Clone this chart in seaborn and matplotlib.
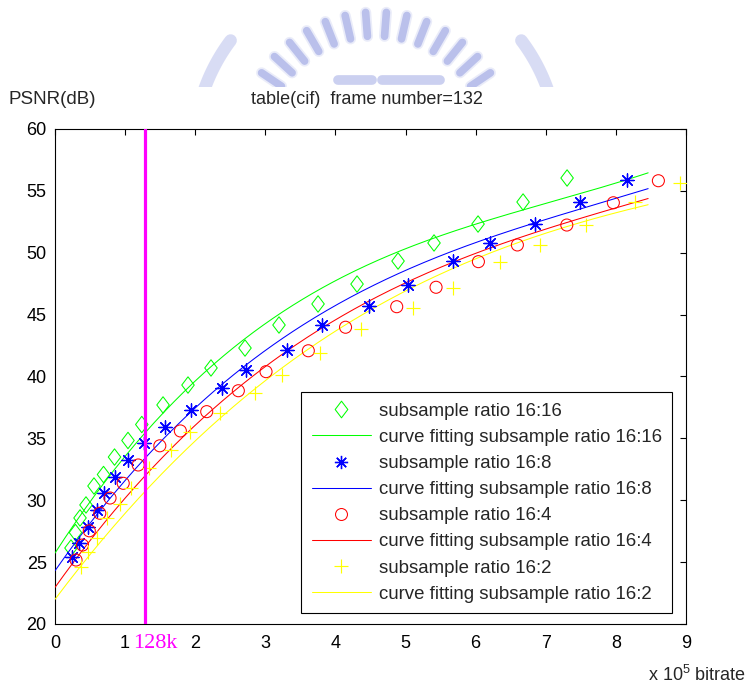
import numpy as np
import matplotlib
matplotlib.use("Agg")
import matplotlib.pyplot as plt
import seaborn as sns
from matplotlib.lines import Line2D
from matplotlib.path import Path

# ---- measured rate / PSNR points (bitrate in units of 1e5 bit/s) ----
r16_x = [0.228, 0.292, 0.357, 0.442, 0.556, 0.692, 0.849, 1.041, 1.238, 1.541, 1.897,
         2.225, 2.710, 3.195, 3.752, 4.308, 4.893, 5.406, 6.034, 6.676, 7.304]
r16_y = [26.14, 27.39, 28.57, 29.62, 31.15, 32.08, 33.49, 34.83, 36.12, 37.70, 39.31,
         40.69, 42.30, 44.16, 45.86, 47.47, 49.33, 50.79, 52.32, 54.10, 56.04]

r8_x = [0.247, 0.342, 0.475, 0.595, 0.703, 0.856, 1.046, 1.274, 1.576, 1.940, 2.382,
        2.725, 3.310, 3.809, 4.479, 5.036, 5.678, 6.205, 6.847, 7.489, 8.160]
r8_y = [25.44, 26.57, 27.86, 29.21, 30.56, 31.85, 33.25, 34.60, 35.92, 37.29, 39.07,
        40.53, 42.14, 44.16, 45.70, 47.39, 49.33, 50.79, 52.32, 54.10, 55.88]

r4_x = [0.300, 0.392, 0.489, 0.639, 0.785, 0.973, 1.187, 1.495, 1.788, 2.164, 2.615,
        3.010, 3.613, 4.144, 4.874, 5.435, 6.039, 6.595, 7.300, 7.964, 8.606]
r4_y = [25.17, 26.38, 27.53, 28.95, 30.18, 31.37, 32.85, 34.40, 35.60, 37.16, 38.85,
        40.39, 42.08, 43.98, 45.64, 47.21, 49.28, 50.63, 52.24, 54.04, 55.82]

r2_x = [0.367, 0.471, 0.603, 0.735, 0.924, 1.080, 1.341, 1.652, 1.926, 2.354, 2.853,
        3.234, 3.780, 4.358, 5.103, 5.678, 6.348, 6.923, 7.579, 8.274, 8.916]
r2_y = [24.63, 25.84, 26.93, 28.54, 29.72, 31.01, 32.58, 34.10, 35.54, 37.07, 38.69,
        40.16, 41.92, 43.85, 45.51, 47.13, 49.24, 50.63, 52.28, 54.08, 55.66]

# ---- values of the fitted rate-distortion curves ----
fit16_x = [0, 1.26, 1.54, 2.26, 3.21, 4.30, 5.41, 6.35, 6.78, 8.46]
fit16_y = [25.44, 35.6, 37.5, 40.8, 44.97, 48.06, 51.1, 53.3, 53.86, 56.28]
fit8_x = [0, 1.26, 2.73, 3.21, 4.21, 5.5, 6.35, 6.78, 8.46]
fit8_y = [23.96, 34.06, 40.66, 42.81, 46.18, 49.5, 51.78, 52.65, 55.0]
fit4_x = [0, 1.26, 2.62, 3.21, 4.48, 5.68, 6.35, 6.78, 8.46]
fit4_y = [22.75, 32.3, 38.85, 41.87, 45.62, 49.25, 50.89, 51.70, 54.26]
fit2_x = [0, 1.26, 3.21, 3.92, 6.35, 6.78, 8.46]
fit2_y = [21.94, 30.69, 40.53, 43.3, 50.36, 51.17, 53.86]
fit_range = (0.0, 8.46)

marker_labels = ["subsample ratio 16:16", "subsample ratio 16:8",
                 "subsample ratio 16:4", "subsample ratio 16:2"]
fit_labels = ["curve fitting subsample ratio 16:16", "curve fitting subsample ratio 16:8",
              "curve fitting subsample ratio 16:4", "curve fitting subsample ratio 16:2"]

x_ticks = list(range(0, 10))
y_ticks = list(range(20, 61, 5))
ref_rate = 1.28          # 128 kbit/s
ref_label = "128k"

# ---- style ----
sns.set_theme(style="white")
plt.rcParams["font.family"] = ["Liberation Sans", "DejaVu Sans"]
plt.rcParams["mathtext.default"] = "regular"

GREEN, BLUE, RED, YELLOW, MAGENTA = "#00ff00", "#0000ff", "#ff0000", "#ffff00", "#ff00ff"

W, H = 748, 686
fig = plt.figure(figsize=(W / 100, H / 100), dpi=100)
fig.patch.set_facecolor("white")

# pale emblem behind the header (pixel coordinates)
bg = fig.add_axes([0, 0, 1, 1], zorder=-5)
bg.set_xlim(0, W)
bg.set_ylim(H, 0)
bg.axis("off")
cx, cy = 376, 150
clip = plt.Rectangle((0, 0), W, 87, transform=bg.transData, facecolor="none",
                     edgecolor="none")
bg.add_patch(clip)
TOOTH = "#aeb6e8"
for ang in np.linspace(34, 146, 14):
    a = np.deg2rad(ang)
    for lw, al in ((8, 0.25), (5.5, 0.8)):
        ln, = bg.plot([cx + 114 * np.cos(a), cx + 138 * np.cos(a)],
                      [cy - 114 * np.sin(a), cy - 138 * np.sin(a)],
                      color=TOOTH, lw=lw, solid_capstyle="round", alpha=al)
        ln.set_clip_path(clip)
for a0, a1 in ((143, 200), (-20, 37)):
    t = np.deg2rad(np.linspace(a0, a1, 60))
    ln, = bg.plot(cx + 182 * np.cos(t), cy - 182 * np.sin(t),
                  color="#ccd1f1", lw=9, alpha=0.75)
    ln.set_clip_path(clip)
for x0, x1 in ((338, 372), (382, 440)):
    ln, = bg.plot([x0, x1], [80, 80], color="#c2c8ee", lw=7, alpha=0.85)
    ln.set_clip_path(clip)

ax = fig.add_axes([55 / W, 1 - 624 / H, 631 / W, 495 / H])
ax.set_facecolor("white")

diamond = Path([(0, 1), (0.76, 0), (0, -1), (-0.76, 0), (0, 1)],
               [Path.MOVETO, Path.LINETO, Path.LINETO, Path.LINETO, Path.CLOSEPOLY])
asterisk = (8, 2, 0)
LW = 0.75

# fitted curves: cubic through the sampled curve values
xs = np.linspace(fit_range[0], fit_range[1], 300)
for fx, fy, col in [(fit16_x, fit16_y, GREEN), (fit8_x, fit8_y, BLUE),
                    (fit4_x, fit4_y, RED), (fit2_x, fit2_y, YELLOW)]:
    coef = np.polyfit(fx, fy, 3)
    sns.lineplot(x=xs, y=np.polyval(coef, xs), color=col, lw=LW, ax=ax,
                 estimator=None, sort=False, legend=False, zorder=3)

# measured points
sns.scatterplot(x=r16_x, y=r16_y, marker=diamond, s=140, color=GREEN,
                facecolor="none", edgecolor=GREEN, linewidth=LW, ax=ax, zorder=4)
sns.scatterplot(x=r8_x, y=r8_y, marker=asterisk, s=90, color=BLUE,
                linewidth=LW + 0.2, ax=ax, zorder=4)
sns.scatterplot(x=r4_x, y=r4_y, marker="o", s=75, color=RED,
                facecolor="none", edgecolor=RED, linewidth=LW, ax=ax, zorder=4)
sns.scatterplot(x=r2_x, y=r2_y, marker="+", s=110, color=YELLOW,
                linewidth=LW + 0.1, ax=ax, zorder=4)

# 128 kbit/s reference
ax.axvline(ref_rate, color=MAGENTA, lw=2.3, zorder=5)
fig.text(133 / W, 1 - 643 / H, ref_label, ha="left", va="center", color=MAGENTA,
         fontsize=16, family=["Liberation Serif", "DejaVu Serif"])

ax.set_xlim(0, 9)
ax.set_ylim(20, 60)
ax.set_xticks(x_ticks)
ax.set_yticks(y_ticks)
ax.set_xticklabels([str(v) for v in x_ticks])
ax.set_yticklabels([str(v) for v in y_ticks])
ax.tick_params(direction="in", top=True, right=True, length=4.3, width=0.8,
               labelsize=13, colors="black")
ax.tick_params(axis="x", pad=8)
ax.tick_params(axis="y", pad=6)
for sp in ax.spines.values():
    sp.set_color("black")
    sp.set_linewidth(0.8)
ax.grid(False)

handles = [
    Line2D([], [], ls="none", marker=diamond, ms=12, mfc="none", mec=GREEN, mew=LW),
    Line2D([], [], color=GREEN, lw=LW),
    Line2D([], [], ls="none", marker=asterisk, ms=9.5, color=BLUE, mew=LW + 0.2),
    Line2D([], [], color=BLUE, lw=LW),
    Line2D([], [], ls="none", marker="o", ms=8.6, mfc="none", mec=RED, mew=LW),
    Line2D([], [], color=RED, lw=LW),
    Line2D([], [], ls="none", marker="+", ms=10.5, color=YELLOW, mew=LW + 0.1),
    Line2D([], [], color=YELLOW, lw=LW),
]
labels = [marker_labels[0], fit_labels[0], marker_labels[1], fit_labels[1],
          marker_labels[2], fit_labels[2], marker_labels[3], fit_labels[3]]
leg = ax.legend(handles, labels, loc="lower right",
                bbox_to_anchor=((672 - 55) / 631, (624 - 613) / 495),
                borderaxespad=0, fontsize=13.4, frameon=True, fancybox=False,
                edgecolor="black", framealpha=1, handlelength=3.2,
                handletextpad=0.4, labelspacing=0.49, borderpad=0.55)
leg.get_frame().set_linewidth(0.8)
leg.set_zorder(10)

fig.text(8 / W, 1 - 100 / H, "PSNR(dB)", ha="left", va="center", fontsize=13.5)
fig.text(367 / W, 1 - 100 / H, "table(cif)  frame number=132", ha="center",
         va="center", fontsize=13)
fig.text(746 / W, 1 - 675 / H, "x 10$^5$ bitrate", ha="right", va="center",
         fontsize=13)

fig.savefig("out.png", dpi=100, facecolor="white")
